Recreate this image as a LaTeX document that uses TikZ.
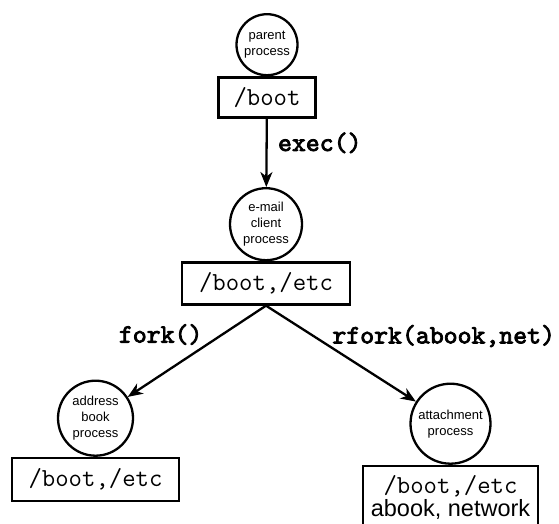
\documentclass[tikz,border=0pt]{standalone}
\usepackage{fontspec}
\setmainfont{Liberation Sans}
\newfontfamily\callfont{lmmono10-regular.otf}[FakeBold=3]
\usetikzlibrary{arrows.meta,positioning}

\begin{document}
\begin{tikzpicture}[x=1pt,y=-1pt,->,>={Stealth[length=15pt,width=12pt,inset=4.5pt]},line width=2.3pt,
  proc/.style={circle,draw,inner sep=0pt,align=center,
    font=\fontsize{13}{16}\selectfont},
  ns/.style={rectangle,draw,inner sep=0pt,align=center,
    font=\fontsize{26}{26}\selectfont\ttfamily},
  call/.style={font=\fontsize{26.5}{28}\selectfont\callfont}]
    \useasboundingbox (0,0) rectangle (559,524);
    \node[ns,minimum width=97,minimum height=40] (boot) at (267,97.5) {/boot};
    \node[proc,minimum size=61,above=0pt of boot] (parent) {parent\\process};
    \node[ns,minimum width=168,minimum height=42] (etc) at (266,283.5) {/boot,/etc};
    \node[proc,minimum size=72,above=0pt of etc] (email) {e-mail\\client\\process};
    \node[ns,minimum width=167,minimum height=43] (abookns) at (95.5,479.5) {/boot,/etc};
    \node[proc,minimum size=75,above=0pt of abookns] (abook) {address\\book\\process};
    \node[ns,minimum width=175,minimum height=62] (attns) at (450.5,497)
      {/boot,/etc\\[-3pt]{\rmfamily\fontsize{23.5}{25}\selectfont abook, network}};
    \node[proc,minimum size=80,above=0pt of attns] (att) {attachment\\process};
    \path (boot) edge node[call,right,xshift=7pt,yshift=10pt] {exec()} (email);
    \path (etc.south) edge node[call,above left,xshift=10pt,yshift=2pt] {fork()} (abook);
    \path (etc.south) edge node[call,above right,xshift=-13pt,yshift=2pt] {rfork(abook,net)} (att);
\end{tikzpicture}
\end{document}
